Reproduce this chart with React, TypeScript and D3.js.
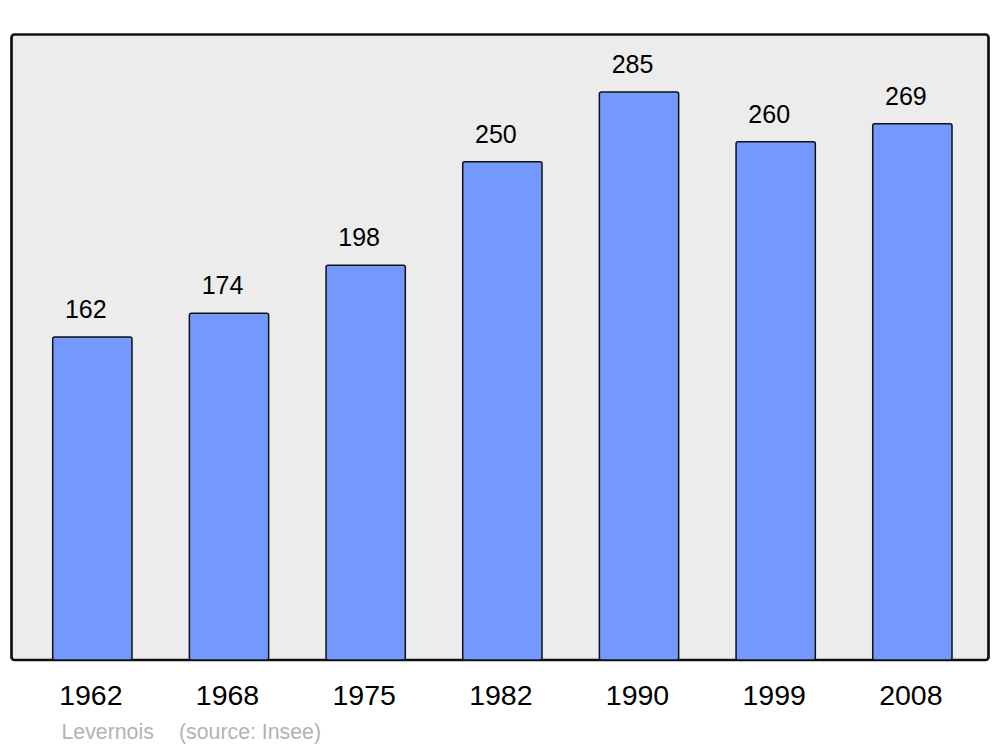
import React from "react";
import * as d3 from "d3";

const years = ["1962", "1968", "1975", "1982", "1990", "1999", "2008"];
const population = [162, 174, 198, 250, 285, 260, 269];
const title = "Levernois";
const source = "(source: Insee)";

const W = 1000;
const H = 747;

export default function App() {
  const x = d3.scaleBand<string>().domain(years).range([24, 980.7]).paddingInner(0.42).paddingOuter(0.21);
  const y = d3.scaleLinear().domain([0, 300]).range([660, 62]);
  const font = "'Liberation Sans', Arial, sans-serif";
  return (
    <svg width={W} height={H} style={{ position: "absolute", left: 0, top: 0 }}>
      <rect x={11.5} y={34.5} width={977} height={625.5} rx={3} fill="#ececec" stroke="#111" strokeWidth={2.7} />
      {years.map((yr, i) => {
        const v = population[i];
        const bx = x(yr)!;
        const bw = x.bandwidth();
        return (
          <g key={yr}>
            <rect x={bx} y={y(v)} width={bw} height={y(0) - y(v)} rx={2} fill="#7399ff" stroke="#111" strokeWidth={1.5} />
            <text x={bx + bw / 2 - 6.5} y={y(v) - 19} textAnchor="middle" fontFamily={font} fontSize={25} fill="#000">{v}</text>
            <text x={bx + bw / 2 - 1.5} y={705} textAnchor="middle" fontFamily={font} fontSize={28.5} fill="#000">{yr}</text>
          </g>
        );
      })}
      <text x={61.5} y={739} fontFamily={font} fontSize={21.3} fill="#b3b3b3">{title}</text>
      <text x={179} y={739} fontFamily={font} fontSize={21.3} fill="#b3b3b3">{source}</text>
    </svg>
  );
}
